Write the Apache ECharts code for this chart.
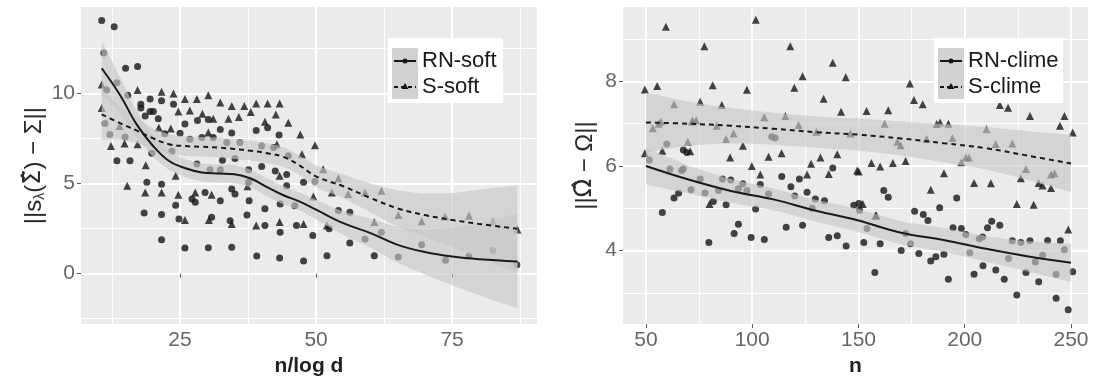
<!DOCTYPE html>
<html>
<head>
<meta charset="utf-8">
<script src="https://cdn.jsdelivr.net/npm/echarts@6/dist/echarts.min.js"></script>
<style>
html, body { margin: 0; padding: 0; background: #fff; }
#chart { width: 1098px; height: 382px; }
</style>
</head>
<body>
<div id="chart"></div>
<script>
// ---------- left panel: soft thresholding ----------
var softCircles = [[10.6,14.05],[12.9,13.7],[15.0,11.4],[17.2,11.5],[15.4,9.9],[17.8,9.4],[17.8,9.2],[19.5,9.7],[19.5,9.0],[20.1,9.0],
	[21.6,9.6],[23.8,9.4],[18.6,8.75],[21,8.6],[25.9,8.3],[28.2,8.5],[30.2,8.56],[32.4,8.0],[34.5,7.8],[39,7.95],[41.1,8.1],[43.2,7.7],
	[13.4,6.26],[15.8,6.26],[18.9,5.07],[21.6,4.96],[24.2,3.8],[18.4,3.37],[21.6,3.28],[21.6,1.88],[24.8,3.04],[25.9,1.42],[27.2,4.14],
	[27.8,3.96],[29.6,4.5],[32.4,4.05],[30.2,1.44],[30.8,3.13],[34.5,4.7],[35.1,4.42],[34.5,1.47],[34.2,2.94],[37.7,4.05],[37.3,3.26],
	[40.6,3.6],[40,5.95],[42.5,5.7],[44.6,5.5],[43.4,2.3],[43.4,3.87],[47.7,5.07],[49.4,2.12],[40.6,2.67],[46.4,2.67],[39.1,0.98],
	[43.3,0.87],[47.7,0.7],[52,1.0],[56.2,1.7],[60.7,1.0],[86.9,0.5],
	[11,12.25],[13.4,10.6],[11.5,10.2],[11.2,8.34],[12.1,7.73],[14.9,7.58],[19.8,6.68],[22.2,7.77],[23.5,6.8],[25,7.79],[26.8,7.46],
	[29,7.55],[31.1,7.55],[33.6,7.28],[36,7.28],[32.8,6.3],[35.1,6.39],[28.1,6.08],[30.5,5.76],[32.4,5.76],[37.6,5.76],[37.6,5.07],
	[40,7.09],[42.2,7.0],[44.9,6.54],[44.6,4.88],[46.1,3.77],[49.8,5.12],[54.1,3.5],[56.2,3.41],[59,1.93],[62,2.3],[65.1,0.92],
	[69.4,1.6],[73.8,0.74],[78.1,0.98],[82.5,1.29],[52.4,2.49]];
var softTriangles = [[10.6,10.5],[17.2,10.2],[21.6,10.1],[23.8,10.0],[25.9,9.7],[28.1,9.7],[30.2,9.9],[32.4,9.5],[34.5,9.3],[36.8,9.3],
	[39,9.45],[41.1,9.45],[43.3,9.45],[38,8.97],[42.6,8.84],[44.9,8.38],[47.1,7.73],[40.6,8.43],[24.7,9.0],[26.8,9.06],[29.1,8.88],
	[31.1,8.6],[33.9,8.6],[35.8,8.69],[10.6,9.2],[12.3,7.09],[14.8,7.22],[17.2,7.18],[18.7,6.02],[15.3,4.88],[18.6,4.51],[21.6,4.51],
	[24.2,5.43],[24.7,4.38],[27.8,4.51],[30.8,4.38],[25.9,2.98],[30.3,2.98],[34.5,2.76],[39,2.67],[47.7,2.76],[43.3,2.86],[43.3,5.43],
	[47.4,6.63],[37.4,4.85],[21.1,8.1],[23.3,8.05],[30.2,7.83],[49.8,7.13],[54.1,5.29],[52.9,4.51],[55.9,4.42],[59,4.51],[62,4.6],
	[87,2.45],[52,2.67],[13.9,8.2],[42.8,7.18],[51.3,5.8],[49.5,4.28],[60.7,2.86],[65.1,3.26],[69.4,2.91],[73.7,3.17],[78.1,3.22],[82.5,2.89]];

var softX = [10.6, 14, 17, 20, 23, 26, 29, 32, 35, 38, 41, 44, 47, 50, 55, 60, 65, 70, 75, 80, 87];
var rnSoftFit = [11.4, 9.9, 8.3, 7.1, 6.25, 5.85, 5.62, 5.56, 5.52, 5.28, 4.8, 4.35, 4.0, 3.55, 2.8, 2.25, 1.6, 1.2, 0.95, 0.8, 0.68];
var rnSoftLo = [9.9, 8.9, 7.55, 6.5, 5.75, 5.35, 5.12, 5.06, 5.02, 4.78, 4.3, 3.85, 3.5, 3.0, 2.15, 1.45, 0.6, -0.05, -0.65, -1.2, -1.92];
var rnSoftHi = [12.9, 10.9, 9.05, 7.7, 6.75, 6.35, 6.12, 6.06, 6.02, 5.78, 5.3, 4.85, 4.5, 4.1, 3.45, 3.05, 2.6, 2.45, 2.55, 2.8, 3.28];
var sSoftFit = [8.84, 8.35, 7.95, 7.52, 7.18, 7.08, 7.04, 7.0, 6.92, 6.82, 6.68, 6.48, 6.0, 5.4, 4.85, 4.2, 3.62, 3.25, 2.98, 2.76, 2.49];
var sSoftLo = [7.44, 7.45, 7.25, 6.97, 6.63, 6.53, 6.49, 6.45, 6.37, 6.27, 6.13, 5.93, 5.45, 4.8, 4.2, 3.4, 2.62, 2.05, 1.48, 0.86, 0.09];
var sSoftHi = [10.24, 9.25, 8.65, 8.07, 7.73, 7.63, 7.59, 7.55, 7.47, 7.37, 7.23, 7.03, 6.55, 6.0, 5.5, 5.0, 4.62, 4.45, 4.48, 4.66, 4.89];

// ---------- right panel: clime ----------
var climeCircles = [[59.8,6.52],[67.6,6.38],[69.2,6.32],[65.4,5.36],[63.2,5.24],[57.7,4.9],[81.7,5.16],[87.7,5.08],[86,5.69],[89.9,5.67],
	[95.6,5.58],[103.8,5.56],[101.6,4.98],[93.5,4.62],[91.5,4.4],[79.6,4.19],[99.5,4.31],[105.7,4.26],[113.9,5.75],[118.2,5.51],
	[122.2,5.69],[125.8,5.38],[137.9,5.95],[116,4.55],[123.7,4.6],[136,4.31],[140,4.35],[144.2,4.11],[147.8,5.07],[150.2,5.11],
	[161.9,5.42],[164,5.26],[196.2,5.24],[188.2,5.01],[176.4,4.93],[180.5,4.85],[182.7,4.71],[194.5,4.54],[198.4,4.52],[200.5,4.38],
	[210.7,4.54],[212.7,4.69],[216.5,4.6],[222.4,4.23],[226.4,4.19],[230.7,4.23],[239,4.24],[245,4.23],[152.5,4.19],[160.2,4.16],
	[170.1,4.0],[174.5,4.16],[178.4,3.93],[184,3.75],[186.4,3.85],[190.2,3.91],[157.7,3.48],[192.3,3.32],[204.4,3.44],[208.6,3.64],
	[214.6,3.54],[218.6,3.32],[228.8,3.48],[234.8,3.26],[243,3.44],[250.8,3.5],[224.5,2.95],[243,2.87],[248.7,2.6],
	[51.6,6.14],[61.3,5.93],[66.8,5.89],[67.6,5.93],[71.2,5.44],[75.5,5.69],[77.8,5.36],[84.1,5.42],[93.5,5.46],[97.5,5.42],
	[107.7,5.34],[120,5.29],[128.2,5.0],[129.7,5.22],[134,5.18],[150.5,4.95],[154,4.52],[172.2,4.4],[206.8,4.28],[208.4,4.32],
	[202.4,3.95],[220.6,3.81],[233.2,3.73],[236.6,3.89],[246.9,4.02],[109.2,6.69],[110.8,6.66]];
var climeTriangles = [[59.4,9.29],[101.7,9.46],[77.5,8.83],[117.9,8.83],[137.9,8.44],[123.7,8.12],[144,8.1],[49.5,7.81],[55.3,7.89],
	[81.4,7.91],[97.5,7.8],[119.8,7.85],[63.2,7.46],[75.5,7.52],[85.7,7.44],[133.6,7.59],[141.8,7.28],[105.7,7.15],[115.6,7.18],[72,7.07],
	[57.7,6.36],[69.7,6.57],[70.8,6.35],[87.7,6.64],[95.6,6.48],[89.6,6.2],[99.8,6.0],[103.8,5.8],[107.7,6.22],[113.8,6.3],[127.7,6.05],
	[132.1,6.2],[140,6.28],[136,5.81],[125.8,5.8],[79.9,5.1],[149.4,5.89],[174.2,7.95],[176.1,7.56],[180.2,7.46],[153.8,7.3],[164,7.32],
	[186.8,6.99],[188.4,7.03],[192.3,7.0],[210.2,6.87],[216.5,7.44],[220.4,7.38],[230.7,7.18],[246.9,7.18],[244.8,6.95],[250.8,6.79],
	[156.1,6.07],[160.2,5.99],[166.2,6.07],[172.2,6.12],[150.1,5.87],[190.2,5.83],[198.4,6.09],[204.4,5.6],[212.3,5.59],[226.4,5.71],
	[234.8,5.6],[236.6,5.54],[240.6,5.48],[184,5.44],[224.5,5.1],[232.4,5.08],[248.7,4.5],[152,5.1],[158,4.83],
	[53.2,6.89],[56,7.0],[57,7.05],[71.6,7.05],[73.6,7.08],[83.3,6.95],[91.2,6.77],[121.8,6.97],[130.2,6.81],[146.2,6.77],[162.3,7.0],
	[168.3,6.57],[169.8,6.49],[182.1,6.64],[194.2,6.66],[214.6,6.52],[222.4,6.53],[228.8,5.93],[240.6,5.8],[242.2,5.83],[158.4,4.83],
	[200.5,6.2],[202,6.2],[49.5,6.3]];

var climeX = [50, 70, 90, 110, 130, 150, 170, 190, 210, 230, 250];
var rnClimeFit = [6.0, 5.68, 5.41, 5.21, 4.94, 4.71, 4.42, 4.25, 4.04, 3.86, 3.71];
var rnClimeLo = [5.57, 5.35, 5.13, 4.95, 4.68, 4.44, 4.15, 3.97, 3.74, 3.5, 3.26];
var rnClimeHi = [6.43, 6.01, 5.69, 5.47, 5.2, 4.98, 4.69, 4.53, 4.34, 4.22, 4.16];
var sClimeFit = [7.03, 7.0, 6.95, 6.88, 6.8, 6.74, 6.65, 6.54, 6.42, 6.24, 6.06];
var sClimeLo = [6.33, 6.48, 6.53, 6.5, 6.43, 6.36, 6.25, 6.09, 5.92, 5.66, 5.39];
var sClimeHi = [7.73, 7.52, 7.37, 7.26, 7.17, 7.12, 7.05, 6.99, 6.92, 6.82, 6.73];

// axis ticks
var softXMajor = [25, 50, 75], softXMinor = [12.5, 37.5, 62.5, 87.5];
var softYMajor = [0, 5, 10], softYMinor = [-2.5, 2.5, 7.5, 12.5];
var climeXMajor = [50, 100, 150, 200, 250], climeXMinor = [75, 125, 175, 225];
var climeYMajor = [4, 6, 8], climeYMinor = [3, 5, 7, 9];

var FONT = 'Liberation Sans, Arial, sans-serif';
var BAND = 'rgba(199,199,199,0.64)';
var INK = '#161616';

function zip(x, y) {
	return x.map(function(v, i) { return [v, y[i]]; });
}

function majorAxis(gi, min, max, ticks, extra) {
	var ax = {
		gridIndex: gi, type: 'value', min: min, max: max,
		axisLine: { show: false },
		axisTick: { show: true, length: 4, lineStyle: { color: '#555' }, customValues: ticks },
		axisLabel: { customValues: ticks, color: '#666', fontSize: 21, margin: 6, fontFamily: FONT },
		splitLine: { show: true, lineStyle: { color: '#fff', width: 2 } }
	};
	for (var k in extra) ax[k] = extra[k];
	return ax;
}

function minorAxis(gi, min, max, ticks, pos) {
	return {
		gridIndex: gi, type: 'value', min: min, max: max, position: pos,
		axisLine: { show: false },
		axisTick: { show: false, customValues: ticks },
		axisLabel: { show: false, customValues: ticks },
		splitLine: { show: true, lineStyle: { color: '#fff', width: 1 } }
	};
}

function points(data, sym, size, xi) {
	return {
		type: 'scatter', xAxisIndex: xi, yAxisIndex: xi, data: data, symbol: sym, symbolSize: size,
		itemStyle: { color: INK }, z: 2, silent: true
	};
}

// confidence ribbon: one polygon, upper edge forward then lower edge back
function band(x, lo, hi, xi) {
	return {
		type: 'custom', xAxisIndex: xi, yAxisIndex: xi, clip: true, silent: true, z: 3,
		data: x.map(function(v, i) { return [v, lo[i], hi[i]]; }),
		encode: { x: 0, y: [1, 2] },
		renderItem: function(params, api) {
			if (params.dataIndex !== 0) return null;
			var n = x.length, pts = [], i;
			for (i = 0; i < n; i++) pts.push(api.coord([x[i], hi[i]]));
			// short steps down the straight end edges keep the corners square
			pts.push(api.coord([x[n - 1], hi[n - 1] - (hi[n - 1] - lo[n - 1]) * 0.04]));
			pts.push(api.coord([x[n - 1], lo[n - 1] + (hi[n - 1] - lo[n - 1]) * 0.04]));
			for (i = n - 1; i >= 0; i--) pts.push(api.coord([x[i], lo[i]]));
			pts.push(api.coord([x[0], lo[0] + (hi[0] - lo[0]) * 0.04]));
			pts.push(api.coord([x[0], hi[0] - (hi[0] - lo[0]) * 0.04]));
			return { type: 'polygon', shape: { points: pts, smooth: 0.2 }, style: { fill: BAND } };
		}
	};
}

function fit(x, y, dashed, xi) {
	return {
		type: 'line', xAxisIndex: xi, yAxisIndex: xi, data: zip(x, y), smooth: 0.4, symbol: 'none',
		lineStyle: { color: '#1a1a1a', width: 2, type: dashed ? [5, 4] : 'solid' }, z: 4, silent: true
	};
}

function legendBox(x0, labels) {
	var g = [];
	g.push({ type: 'rect', shape: { x: x0, y: 38, width: labels.w, height: 65 }, style: { fill: '#fff' }, z: 100 });
	g.push({ type: 'rect', shape: { x: x0 + 4, y: 48, width: 26, height: 51 }, style: { fill: '#d2d2d2' }, z: 101 });
	g.push({ type: 'line', shape: { x1: x0 + 6, y1: 61, x2: x0 + 28, y2: 61 }, style: { stroke: INK, lineWidth: 2 }, z: 102 });
	g.push({ type: 'circle', shape: { cx: x0 + 17, cy: 61, r: 2.5 }, style: { fill: INK }, z: 102 });
	g.push({ type: 'line', shape: { x1: x0 + 6, y1: 87, x2: x0 + 28, y2: 87 }, style: { stroke: INK, lineWidth: 2, lineDash: [4, 3] }, z: 102 });
	g.push({ type: 'polygon', shape: { points: [[x0 + 17, 83], [x0 + 20.5, 89], [x0 + 13.5, 89]] }, style: { fill: INK }, z: 102 });
	g.push({ type: 'text', x: x0 + 34, y: 61, style: { text: labels.a, font: '22px ' + FONT, fill: '#1a1a1a', verticalAlign: 'middle' }, z: 102 });
	g.push({ type: 'text', x: x0 + 34, y: 87, style: { text: labels.b, font: '22px ' + FONT, fill: '#1a1a1a', verticalAlign: 'middle' }, z: 102 });
	return g;
}

var chart = echarts.init(document.getElementById('chart'));
var series = [
	points(softCircles, 'circle', 7, 0),
	points(softTriangles, 'triangle', 8, 0),
	points(climeCircles, 'circle', 7, 1),
	points(climeTriangles, 'triangle', 8, 1),
	band(softX, rnSoftLo, rnSoftHi, 0),
	band(softX, sSoftLo, sSoftHi, 0),
	band(climeX, rnClimeLo, rnClimeHi, 1),
	band(climeX, sClimeLo, sClimeHi, 1),
	fit(softX, rnSoftFit, false, 0),
	fit(softX, sSoftFit, true, 0),
	fit(climeX, rnClimeFit, false, 1),
	fit(climeX, sClimeFit, true, 1)
];

var titleStyle = { fontWeight: 'bold', fontSize: 21, color: '#222', fontFamily: FONT };
var yTitleStyle = {
	fontSize: 24, color: '#2a2a2a', fontFamily: FONT,
	rich: {
		l: { fontSize: 14, color: '#2a2a2a', fontFamily: FONT, verticalAlign: 'bottom', padding: [12, 0, 0, 0] },
		h: { fontSize: 24, color: '#2a2a2a', fontFamily: 'DejaVu Sans' }
	}
};

chart.setOption({
	animation: false,
	backgroundColor: '#fff',
	grid: [
		{ left: 81, right: 561, top: 7, bottom: 56, show: true, backgroundColor: '#ebebeb', borderWidth: 0 },
		{ left: 623, right: 10, top: 7, bottom: 56, show: true, backgroundColor: '#ebebeb', borderWidth: 0 }
	],
	xAxis: [
		majorAxis(0, 6.8, 90.6, softXMajor, { name: 'n/log d', nameLocation: 'middle', nameGap: 25, nameTextStyle: titleStyle }),
		majorAxis(1, 39.2, 258, climeXMajor, { name: 'n', nameLocation: 'middle', nameGap: 25, nameTextStyle: titleStyle }),
		minorAxis(0, 6.8, 90.6, softXMinor, 'top'),
		minorAxis(1, 39.2, 258, climeXMinor, 'top')
	],
	yAxis: [
		majorAxis(0, -2.8, 14.8, softYMajor, { name: '||s{l|λ}({h|Σ\u0302}) − Σ||', nameLocation: 'middle', nameGap: 34, nameTextStyle: yTitleStyle }),
		majorAxis(1, 2.26, 9.76, climeYMajor, { name: '||{h|Ω\u0302} − Ω||', nameLocation: 'middle', nameGap: 26, nameTextStyle: yTitleStyle }),
		minorAxis(0, -2.8, 14.8, softYMinor, 'right'),
		minorAxis(1, 2.26, 9.76, climeYMinor, 'right')
	],
	series: series,
	graphic: legendBox(388, { w: 115, a: 'RN-soft', b: 'S-soft' }).concat(legendBox(934, { w: 129, a: 'RN-clime', b: 'S-clime' }))
});
</script>
</body>
</html>
